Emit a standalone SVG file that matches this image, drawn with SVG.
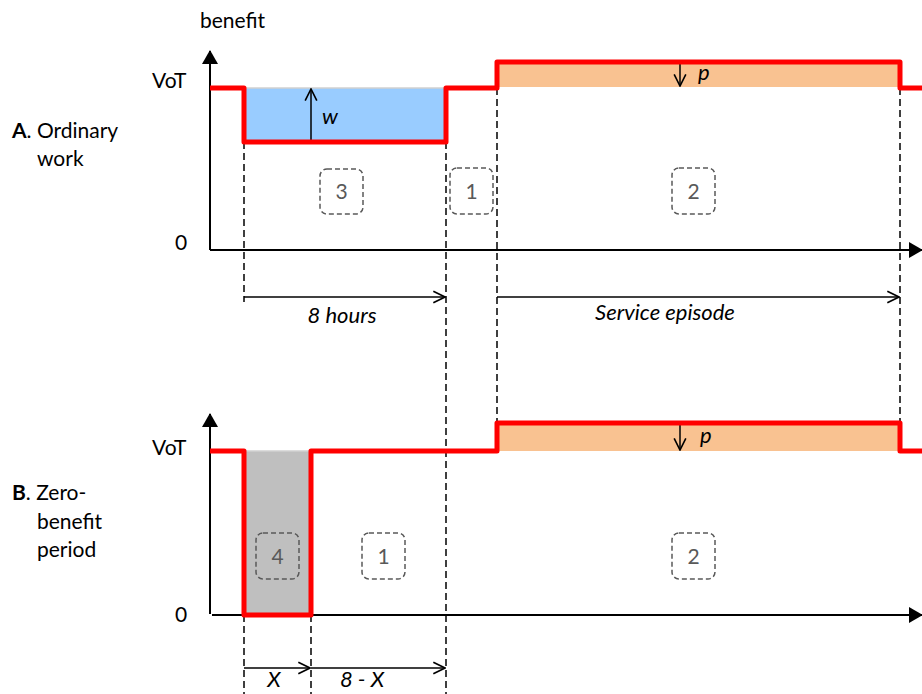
<svg xmlns="http://www.w3.org/2000/svg" width="922" height="694" viewBox="0 0 922 694">
  <defs>
    <marker id="axisHead" viewBox="0 0 14 16" refX="13" refY="8" markerWidth="14" markerHeight="16" markerUnits="userSpaceOnUse" orient="auto">
      <path d="M0,0 L14,8 L0,16 z" fill="#000"/>
    </marker>
    <marker id="openHead" viewBox="0 0 12 12" refX="11" refY="6" markerWidth="14" markerHeight="14" markerUnits="userSpaceOnUse" orient="auto">
      <path d="M1,1 L11,6 L1,11" fill="none" stroke="#000" stroke-width="1.4"/>
    </marker>
  </defs>
  <style>
    text { font-family: Lato, "Open Sans", "Liberation Sans", sans-serif; fill: #000; }
    .lbl { font-size: 21px; }
    .it { font-size: 22px; font-style: italic; }
    .num { font-size: 21px; fill: #595959; text-anchor: middle; }
    .box { fill: none; stroke: #595959; stroke-width: 1.5; stroke-dasharray: 5 3; }
    .axis { fill: none; stroke: #000; stroke-width: 2; }
    .guide { fill: none; stroke: #000; stroke-width: 1.5; stroke-dasharray: 7 4; }
    .dim { fill: none; stroke: #000; stroke-width: 1.5; marker-end: url(#openHead); }
    .curve { fill: none; stroke: #ff0000; stroke-width: 5; stroke-linejoin: round; }
    .edge { stroke: #d0d0d0; stroke-width: 1.5; }
  </style>

  <!-- shaded areas -->
  <g id="areas">
    <rect x="246" y="88" width="198" height="54" fill="#99ccff"/>
    <line class="edge" x1="246" y1="88" x2="444" y2="88"/>
    <rect x="497" y="62" width="403" height="25" fill="#f9c291"/>
    <rect x="246" y="451" width="63" height="164" fill="#bfbfbf"/>
    <line class="edge" x1="246" y1="451" x2="309" y2="451"/>
    <rect x="497" y="423" width="403" height="28" fill="#f9c291"/>
  </g>

  <!-- axes -->
  <g id="axes">
    <line class="axis" x1="210" y1="250" x2="210" y2="51" marker-end="url(#axisHead)"/>
    <line class="axis" x1="210" y1="250" x2="922" y2="250" marker-end="url(#axisHead)"/>
    <line class="axis" x1="210" y1="614" x2="210" y2="414" marker-end="url(#axisHead)"/>
    <line class="axis" x1="212" y1="615" x2="922" y2="615" marker-end="url(#axisHead)"/>
  </g>

  <!-- connectors: guide lines and dimension arrows -->
  <g id="connectors">
    <line class="guide" x1="244" y1="142" x2="244" y2="302"/>
    <line class="guide" x1="446" y1="142" x2="446" y2="694"/>
    <line class="guide" x1="497" y1="88" x2="497" y2="423"/>
    <line class="guide" x1="900" y1="88" x2="900" y2="423"/>
    <line class="guide" x1="244" y1="615" x2="244" y2="694"/>
    <line class="guide" x1="311" y1="615" x2="311" y2="694"/>
    <line class="dim" x1="244" y1="297" x2="445" y2="297"/>
    <line class="dim" x1="497" y1="297" x2="899" y2="297"/>
    <line class="dim" x1="244" y1="668" x2="310" y2="668"/>
    <line class="dim" x1="311" y1="668" x2="445" y2="668"/>
    <line class="dim" x1="311" y1="140" x2="311" y2="89"/>
    <line class="dim" x1="680" y1="62" x2="680" y2="86"/>
    <line class="dim" x1="680" y1="424" x2="680" y2="450"/>
  </g>

  <!-- benefit curves -->
  <g id="curve-a">
    <polyline class="curve" points="210,88 244,88 244,142 446,142 446,88 497,88 497,62 900,62 900,88 922,88"/>
  </g>
  <g id="curve-b">
    <polyline class="curve" points="210,451 244,451 244,615 311,615 311,451 497,451 497,423 900,423 900,451 922,451"/>
  </g>

  <!-- numbered regions -->
  <g id="region-a3"><rect class="box" x="320" y="169" width="43" height="45" rx="7"/><text class="num" x="341.5" y="199">3</text></g>
  <g id="region-a1"><rect class="box" x="450" y="168" width="43" height="46" rx="7"/><text class="num" x="471.5" y="199">1</text></g>
  <g id="region-a2"><rect class="box" x="672" y="168" width="43" height="46" rx="7"/><text class="num" x="693.5" y="199">2</text></g>
  <g id="region-b4"><rect class="box" x="256" y="533" width="43" height="46" rx="7"/><text class="num" x="277.5" y="564">4</text></g>
  <g id="region-b1"><rect class="box" x="362" y="533" width="43" height="46" rx="7"/><text class="num" x="383.5" y="564">1</text></g>
  <g id="region-b2"><rect class="box" x="672" y="533" width="43" height="46" rx="7"/><text class="num" x="693.5" y="564">2</text></g>

  <!-- labels -->
  <g id="labels">
    <text class="lbl" x="200" y="28">benefit</text>
    <text class="lbl" x="152" y="88">VoT</text>
    <text class="lbl" x="175" y="250">0</text>
    <text class="lbl" x="152" y="455">VoT</text>
    <text class="lbl" x="175" y="622">0</text>
    <text class="lbl" x="12" y="138"><tspan font-weight="bold">A</tspan>. Ordinary</text>
    <text class="lbl" x="37" y="166">work</text>
    <text class="lbl" x="12" y="500"><tspan font-weight="bold">B</tspan>. Zero-</text>
    <text class="lbl" x="37" y="529">benefit</text>
    <text class="lbl" x="37" y="557">period</text>
    <text class="it" x="322" y="124">w</text>
    <text class="it" x="698" y="80">p</text>
    <text class="it" x="700" y="443">p</text>
    <text class="it" x="342" y="323" text-anchor="middle">8 hours</text>
    <text class="it" x="665" y="320" text-anchor="middle">Service episode</text>
    <text class="it" x="274" y="687" text-anchor="middle">X</text>
    <text class="it" x="362" y="687" text-anchor="middle">8 - X</text>
  </g>
</svg>
